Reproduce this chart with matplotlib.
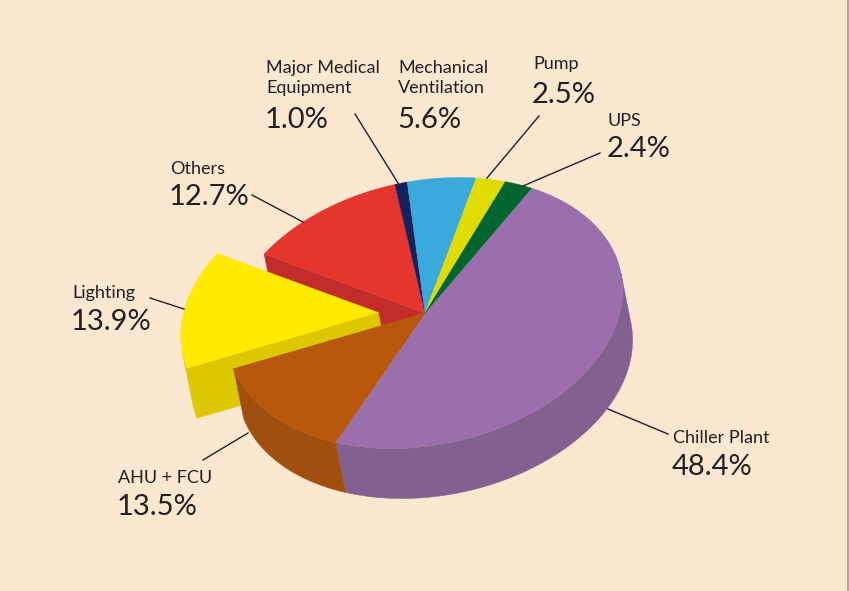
"""
energy use breakdown as a tilted 3d-looking pie, drawn by hand with polygons
"""

import numpy as np
import matplotlib.pyplot as plt
from matplotlib.patches import Polygon

categories = ['Chiller Plant', 'AHU + FCU', 'Lighting', 'Others',
              'Major Medical\nEquipment', 'Mechanical\nVentilation', 'Pump', 'UPS']
shares = [48.4, 13.5, 13.9, 12.7, 1.0, 5.6, 2.5, 2.4]
top_colors = ['#9b6fab', '#b8580d', '#ffea00', '#e4362e', '#15225e', '#3aa9dc', '#e0dc00', '#00652f']
side_colors = ['#82608f', '#a04f0f', '#ddc700', '#c22d2a', '#101a48', '#2f8cb8', '#bdb900', '#00522a']
exploded = 'Lighting'

# label layout in pixels: (x, name baseline of last line, pct baseline) and leader line ends
label_pos = {
    'Chiller Plant': (673, 443, 475),
    'AHU + FCU': (118, 483, 515),
    'Lighting': (72, 298, 330),
    'Others': (170, 174, 205),
    'Major Medical\nEquipment': (266, 93, 128),
    'Mechanical\nVentilation': (398, 93, 128),
    'Pump': (533, 69, 103),
    'UPS': (608, 126, 157),
}
leaders = {
    'Chiller Plant': ((668, 434), (608, 409)),
    'AHU + FCU': ((203, 460), (248, 433)),
    'Lighting': ((150, 298), (184, 309)),
    'Others': ((252, 195), (303, 222)),
    'Major Medical\nEquipment': ((355, 114), (398, 183)),
    'Mechanical\nVentilation': None,
    'Pump': ((539, 116), (487, 178)),
    'UPS': ((600, 153), (523, 186)),
}

W, H = 849, 591
cx, cy = 425, 313
# top face is a skewed ellipse: x = ax*cos + bx*sin, y = ay*cos + by*sin (y down)
ax_, bx_ = 197, 16
ay_, by_ = -12, -135
drop = np.array([10, 50])   # rim-to-bottom offset of the side wall
start = 62
bg = '#fce8d1'
font = 'Lato'
ink = '#231f20'


def proj(t, scale=1.0):
    t = np.radians(np.atleast_1d(t))
    c, s = np.cos(t), np.sin(t)
    return scale * np.column_stack([ax_ * c + bx_ * s, ay_ * c + by_ * s])


def rim(x0, y0, t1, t2, n=80):
    return proj(np.linspace(t1, t2, n)) + [x0, y0]


def visible_range():
    # rim angles where the side wall faces the viewer
    t = np.linspace(-270, 90, 3601)
    tan = np.gradient(proj(t), axis=0)
    cross = tan[:, 0] * drop[1] - tan[:, 1] * drop[0]
    good = t[cross > 0]
    return good.min(), good.max()


vis_lo, vis_hi = visible_range()


def front_part(t1, t2):
    lo, hi = t2, t1
    for s in (0, 360, -360):
        a, b = max(lo + s, vis_lo), min(hi + s, vis_hi)
        if a < b:
            return b - s, a - s
    return None


def draw_side(ax, x0, y0, t1, t2, color):
    part = front_part(t1, t2)
    if part is None:
        return
    top = rim(x0, y0, part[0], part[1])
    bot = (top + drop)[::-1]
    ax.add_patch(Polygon(np.vstack([top, bot]), closed=True, fc=color, ec=color, lw=0.3))


def draw_cut(ax, x0, y0, t, color):
    edge = rim(x0, y0, t, t, n=1)[0]
    pts = [(x0, y0), edge, edge + drop, (x0 + drop[0], y0 + drop[1])]
    ax.add_patch(Polygon(pts, closed=True, fc=color, ec=color, lw=0.3))


def draw_top(ax, x0, y0, t1, t2, color):
    pts = np.vstack([[(x0, y0)], rim(x0, y0, t1, t2)])
    ax.add_patch(Polygon(pts, closed=True, fc=color, ec=color, lw=0.3))


fig = plt.figure(figsize=(W / 100, H / 100), dpi=100)
fig.patch.set_facecolor(bg)
ax = fig.add_axes([0, 0, 1, 1])
ax.set_xlim(0, W)
ax.set_ylim(H, 0)
ax.axis('off')

# angles of each slice, going clockwise from start
spans = np.array(shares) / sum(shares) * 360
ends = start - np.cumsum(spans)
begins = ends + spans
k = categories.index(exploded)
mid = (begins[k] + ends[k]) / 2
shift = proj(mid, scale=0.24)[0]
ex, ey = cx + shift[0], cy + shift[1]

# back to front: red cut face, exploded slice, main sides, main tops
draw_cut(ax, cx, cy, ends[k], side_colors[k + 1])
draw_side(ax, ex, ey, begins[k], ends[k], side_colors[k])
draw_cut(ax, ex, ey, begins[k], side_colors[k])
draw_top(ax, ex, ey, begins[k], ends[k], top_colors[k])

for i in range(len(shares)):
    if i != k:
        draw_side(ax, cx, cy, begins[i], ends[i], side_colors[i])
for i in range(len(shares)):
    if i != k:
        draw_top(ax, cx, cy, begins[i], ends[i], top_colors[i])

for name, val in zip(categories, shares):
    x, yn, yp = label_pos[name]
    ax.text(x, yn, name, fontsize=13, family=font, color=ink,
            ha='left', va='baseline', linespacing=1.3)
    ax.text(x - 1, yp, f'{val:.1f}%', fontsize=21, family=font, color=ink,
            ha='left', va='baseline')
    if leaders[name] is not None:
        (x1, y1), (x2, y2) = leaders[name]
        ax.plot([x1, x2], [y1, y2], color=ink, lw=1)

ax.plot([W - 1, W - 1], [0, H], color='#b0aaa4', lw=1.5)

plt.savefig('out.png', dpi=100, facecolor=bg)
